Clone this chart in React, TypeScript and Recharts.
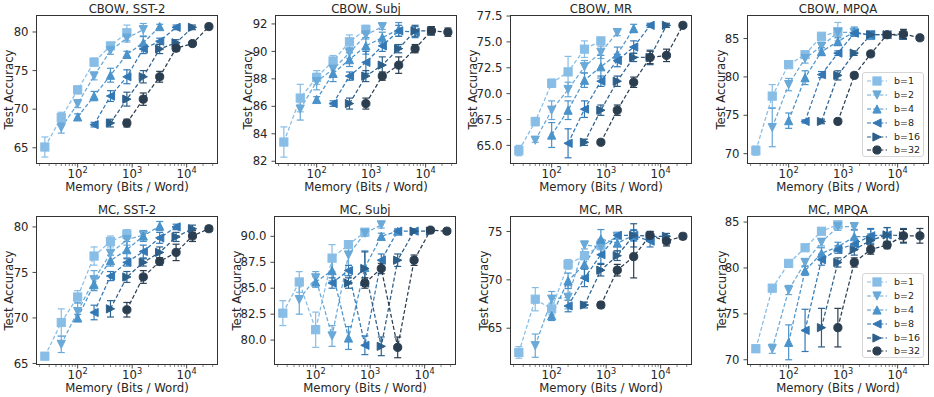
import React from "react"
import { LineChart, Line, XAxis, YAxis, ErrorBar, Legend } from "recharts"

const FONT = "'DejaVu Sans', Verdana, sans-serif"
const INK = "#262626"
const FRAME = "#333333"

const bitLabels = ["b=1", "b=2", "b=4", "b=8", "b=16", "b=32"]
const bitColors = ["#88bde6", "#6aa9d8", "#4a93cb", "#3378b5", "#2c5f8a", "#2b3e50"]
const bitShapes = ["square", "down", "up", "left", "right", "circle"]

// memory budgets (bits / word); series i uses the 6 budgets starting at index i
const memory = [25, 50, 100, 200, 400, 800, 1600, 3200, 6400, 12800, 25600]
const xTicks = [
  20, 30, 40, 50, 60, 70, 80, 90, 100, 200, 300, 400, 500, 600, 700, 800, 900, 1000, 2000, 3000, 4000,
  5000, 6000, 7000, 8000, 9000, 10000, 20000, 30000,
]
const majorTicks = [100, 1000, 10000]

const cbowSst2Acc = [
  [65.1, 68.9, 72.5, 76.1, 78.2, 79.9],
  [67.6, 70.7, 74.3, 77.6, 79.2, 80.3],
  [69.0, 71.7, 74.4, 77.1, 78.6, 80.7],
  [68.0, 71.7, 74.2, 77.8, 78.8, 80.6],
  [68.2, 71.3, 74.2, 77.8, 78.6, 80.6],
  [68.2, 71.3, 74.2, 77.9, 78.5, 80.7],
]
const cbowSst2Err = [
  [1.3, 0.7, 0.5, 0.5, 0.4, 1.0],
  [0.7, 0.5, 0.5, 0.5, 0.5, 0.8],
  [0.4, 0.6, 0.9, 0.4, 0.8, 0.3],
  [0.3, 0.7, 0.9, 0.6, 0.4, 0.3],
  [0.5, 0.9, 0.8, 0.6, 0.4, 0.3],
  [0.5, 0.8, 0.7, 0.4, 0.3, 0.3],
]

const cbowSubjAcc = [
  [83.4, 86.6, 88.1, 89.3, 90.7, 91.6],
  [85.8, 87.8, 88.7, 89.9, 91.2, 91.8],
  [86.5, 88.4, 89.4, 90.4, 91.0, 91.6],
  [86.2, 88.2, 89.2, 90.4, 91.5, 91.4],
  [86.2, 88.2, 89.0, 90.2, 91.5, 91.5],
  [86.2, 88.2, 89.0, 90.2, 91.5, 91.4],
]
const cbowSubjErr = [
  [1.1, 1.0, 0.5, 0.4, 0.5, 0.3],
  [0.8, 0.6, 0.5, 0.4, 0.3, 0.2],
  [0.2, 0.6, 0.5, 0.6, 0.4, 0.5],
  [0.2, 0.3, 0.8, 0.4, 0.4, 0.4],
  [0.4, 0.4, 0.6, 0.3, 0.4, 0.3],
  [0.4, 0.3, 0.6, 0.3, 0.3, 0.3],
]

const cbowMrAcc = [
  [64.5, 67.3, 71.0, 72.1, 74.3, 75.1],
  [65.5, 68.4, 70.4, 72.6, 74.0, 75.9],
  [66.0, 68.4, 71.3, 72.6, 73.8, 76.3],
  [65.2, 68.5, 71.2, 73.2, 74.5, 76.6],
  [65.3, 68.4, 71.2, 73.5, 73.5, 76.6],
  [65.3, 68.4, 71.1, 73.5, 73.7, 76.6],
]
const cbowMrErr = [
  [0.5, 0.4, 0.4, 1.5, 0.8, 0.3],
  [0.2, 0.9, 0.7, 0.6, 0.6, 0.3],
  [1.2, 0.9, 0.7, 1.1, 0.7, 0.4],
  [1.4, 0.8, 0.5, 0.6, 0.6, 0.2],
  [0.3, 0.5, 0.5, 0.4, 0.7, 0.2],
  [0.2, 0.5, 0.5, 0.6, 0.6, 0.2],
]

const cbowMpqaAcc = [
  [70.4, 77.5, 81.6, 82.9, 85.3, 85.9],
  [73.4, 79.0, 82.4, 84.0, 85.8, 85.8],
  [74.3, 79.9, 83.3, 84.6, 85.9, 85.4],
  [74.2, 80.3, 83.1, 85.7, 85.5, 85.5],
  [74.2, 80.2, 83.1, 85.5, 85.5, 85.4],
  [74.2, 80.2, 83.0, 85.5, 85.6, 85.1],
]
const cbowMpqaErr = [
  [0.6, 1.5, 0.3, 0.4, 0.3, 1.2],
  [2.5, 0.8, 0.6, 0.5, 0.5, 0.5],
  [1.0, 0.9, 0.5, 0.5, 0.6, 0.5],
  [0.2, 0.4, 0.3, 0.4, 0.5, 0.4],
  [0.3, 0.6, 0.3, 0.4, 0.4, 0.5],
  [0.3, 0.3, 0.3, 0.4, 0.6, 0.3],
]

const mcSst2Acc = [
  [65.8, 69.5, 72.3, 76.8, 78.4, 79.2],
  [67.1, 70.7, 74.2, 77.1, 78.6, 79.1],
  [70.0, 73.7, 76.3, 77.5, 79.0, 80.1],
  [70.6, 74.6, 76.1, 77.3, 78.8, 80.0],
  [71.0, 74.5, 76.1, 77.2, 78.9, 79.8],
  [70.9, 74.5, 76.2, 77.2, 79.0, 79.8],
]
const mcSst2Err = [
  [0.2, 1.5, 0.7, 1.0, 0.6, 0.5],
  [0.9, 1.0, 1.0, 1.0, 0.6, 0.5],
  [0.4, 0.7, 0.6, 0.9, 0.6, 0.5],
  [0.8, 0.5, 0.4, 0.7, 0.6, 0.3],
  [0.9, 0.6, 0.4, 0.6, 0.5, 0.4],
  [0.8, 0.7, 0.4, 0.9, 0.6, 0.3],
]

const mcSubjAcc = [
  [82.6, 85.6, 81.0, 87.9, 89.2, 90.4],
  [83.9, 86.0, 80.4, 88.2, 90.3, 91.1],
  [85.6, 86.7, 80.2, 87.0, 90.0, 90.5],
  [85.5, 86.7, 79.5, 87.7, 90.5, 90.5],
  [85.5, 86.9, 79.4, 87.7, 90.5, 90.5],
  [85.5, 86.9, 79.3, 87.7, 90.6, 90.5],
]
const mcSubjErr = [
  [1.2, 1.0, 1.7, 1.3, 0.3, 0.3],
  [1.4, 0.6, 1.0, 1.0, 0.3, 0.3],
  [0.5, 1.0, 1.1, 1.6, 0.3, 0.2],
  [0.5, 0.5, 0.9, 0.6, 0.2, 0.2],
  [0.5, 1.6, 0.9, 0.6, 0.2, 0.2],
  [0.5, 0.5, 1.0, 0.5, 0.2, 0.2],
]

const mcMrAcc = [
  [62.5, 68.0, 67.0, 71.6, 72.5, 73.6],
  [63.2, 68.0, 68.2, 73.6, 73.4, 74.5],
  [66.3, 69.9, 71.6, 74.2, 73.8, 74.6],
  [67.3, 70.2, 72.6, 74.6, 74.6, 74.0],
  [67.4, 71.0, 72.5, 74.6, 74.5, 74.5],
  [67.4, 71.0, 72.4, 74.6, 74.0, 74.5],
]
const mcMrErr = [
  [0.6, 1.2, 0.6, 0.5, 0.4, 0.5],
  [1.2, 0.8, 1.2, 0.4, 0.8, 0.3],
  [0.5, 0.8, 1.2, 1.0, 0.8, 0.6],
  [0.6, 0.9, 0.9, 0.3, 0.5, 0.6],
  [0.3, 0.6, 0.5, 1.2, 0.5, 0.3],
  [0.3, 0.6, 2.2, 0.4, 0.5, 0.3],
]

const mcMpqaAcc = [
  [71.2, 77.8, 80.5, 82.2, 84.0, 84.7],
  [71.2, 77.6, 80.6, 82.8, 84.5, 84.5],
  [71.9, 79.7, 81.6, 82.3, 83.4, 83.4],
  [73.2, 80.9, 82.0, 82.6, 83.5, 83.6],
  [73.5, 80.6, 82.0, 83.0, 83.6, 83.5],
  [73.5, 80.6, 82.0, 82.5, 83.5, 83.5],
]
const mcMpqaErr = [
  [0.4, 0.3, 0.3, 0.3, 0.3, 0.3],
  [0.5, 0.5, 0.4, 0.4, 0.4, 0.4],
  [1.9, 0.5, 0.6, 0.5, 0.8, 0.8],
  [2.3, 0.6, 0.4, 0.6, 0.8, 0.8],
  [2.1, 0.5, 0.6, 0.7, 0.8, 0.8],
  [2.1, 0.5, 0.5, 0.4, 0.7, 0.8],
]

type Panel = {
  title: string
  acc: number[][]
  err: number[][]
  yDomain: [number, number]
  yTicks: number[]
  dec: number
  left: number
  top: number
  yAxisW: number
  legend?: boolean
}

const PW = 182
const PH = 149
const XH = 45
const MT = 5
const MR = 5

const panels: Panel[] = [
  { title: "CBOW, SST-2", acc: cbowSst2Acc, err: cbowSst2Err, yDomain: [62.9, 82.2], yTicks: [65, 70, 75, 80], dec: 0, left: 36, top: 15, yAxisW: 54 },
  { title: "CBOW, Subj", acc: cbowSubjAcc, err: cbowSubjErr, yDomain: [81.8, 92.65], yTicks: [82, 84, 86, 88, 90, 92], dec: 0, left: 275, top: 15, yAxisW: 54 },
  { title: "CBOW, MR", acc: cbowMrAcc, err: cbowMrErr, yDomain: [63.2, 77.6], yTicks: [65, 67.5, 70, 72.5, 75, 77.5], dec: 1, left: 510, top: 15, yAxisW: 74 },
  { title: "CBOW, MPQA", acc: cbowMpqaAcc, err: cbowMpqaErr, yDomain: [68.65, 88.07], yTicks: [70, 75, 80, 85], dec: 0, left: 747, top: 15, yAxisW: 52, legend: true },
  { title: "MC, SST-2", acc: mcSst2Acc, err: mcSst2Err, yDomain: [64.83, 81.2], yTicks: [65, 70, 75, 80], dec: 0, left: 36, top: 216, yAxisW: 54 },
  { title: "MC, Subj", acc: mcSubjAcc, err: mcSubjErr, yDomain: [77.6, 91.96], yTicks: [80, 82.5, 85, 87.5, 90], dec: 1, left: 274, top: 216, yAxisW: 74 },
  { title: "MC, MR", acc: mcMrAcc, err: mcMrErr, yDomain: [61.2, 76.6], yTicks: [65, 70, 75], dec: 0, left: 510, top: 216, yAxisW: 52 },
  { title: "MC, MPQA", acc: mcMpqaAcc, err: mcMpqaErr, yDomain: [69.43, 85.66], yTicks: [70, 75, 80, 85], dec: 0, left: 747, top: 216, yAxisW: 50, legend: true },
]

function Marker({ shape, cx, cy, color, s = 8.2 }: { shape: string; cx: number; cy: number; color: string; s?: number }) {
  if (cx == null || cy == null) return null
  const h = s / 2
  const common = { fill: color, stroke: color, strokeWidth: 1 }
  switch (shape) {
    case "square":
      return <rect x={cx - h} y={cy - h} width={s} height={s} {...common} />
    case "down":
      return <polygon points={`${cx - h},${cy - h} ${cx + h},${cy - h} ${cx},${cy + h}`} {...common} />
    case "up":
      return <polygon points={`${cx - h},${cy + h} ${cx + h},${cy + h} ${cx},${cy - h}`} {...common} />
    case "left":
      return <polygon points={`${cx + h},${cy - h} ${cx + h},${cy + h} ${cx - h},${cy}`} {...common} />
    case "right":
      return <polygon points={`${cx - h},${cy - h} ${cx - h},${cy + h} ${cx + h},${cy}`} {...common} />
    default:
      return <circle cx={cx} cy={cy} r={h} {...common} />
  }
}

function MemoryTick(props: any) {
  const { x, y, payload } = props
  const v = payload.value
  const major = majorTicks.includes(v)
  return (
    <g>
      <line x1={x} x2={x} y1={y} y2={y + (major ? 3.5 : 2)} stroke={FRAME} strokeWidth={major ? 0.9 : 0.6} />
      {major && (
        <text x={x} y={y + 14.3} textAnchor="middle" fill={INK} fontSize={11.7} fontFamily={FONT}>
          10
          <tspan dy={-5.3} fontSize={8.2}>
            {Math.round(Math.log10(v))}
          </tspan>
        </text>
      )}
    </g>
  )
}

function LegendBox() {
  return (
    <div
      style={{
        width: 62,
        height: 85,
        boxSizing: "border-box",
        border: "1px solid #d5d5d5",
        borderRadius: 3,
        background: "rgba(255,255,255,0.85)",
        paddingTop: 1,
        fontFamily: FONT,
        fontSize: 9.5,
        color: INK,
      }}
    >
      {bitLabels.map((lab, i) => (
        <div key={lab} style={{ display: "flex", alignItems: "center", height: 13.9 }}>
          <svg width={27} height={14} style={{ display: "block" }}>
            <line x1={4} x2={24} y1={7} y2={7} stroke={bitColors[i]} strokeWidth={1.2} strokeDasharray="4 2.2" />
            <Marker shape={bitShapes[i]} cx={14} cy={7} color={bitColors[i]} />
          </svg>
          <span style={{ marginLeft: 4, lineHeight: "14px" }}>{lab}</span>
        </div>
      ))}
    </div>
  )
}

function PanelChart({ p }: { p: Panel }) {
  const W = p.yAxisW + PW + MR
  const H = MT + PH + XH
  return (
    <>
      <div
        style={{
          position: "absolute",
          left: p.left,
          top: p.top - 13,
          width: PW,
          textAlign: "center",
          fontFamily: FONT,
          fontSize: 11.7,
          lineHeight: "14px",
          color: INK,
        }}
      >
        {p.title}
      </div>
      <div style={{ position: "absolute", left: p.left - p.yAxisW, top: p.top - MT }}>
        <LineChart width={W} height={H} margin={{ top: MT, right: MR, bottom: 0, left: 0 }}>
          <XAxis
            dataKey="m"
            type="number"
            scale="log"
            domain={[17.2, 37600]}
            allowDataOverflow
            ticks={xTicks}
            interval={0}
            height={XH}
            tickSize={0}
            tickMargin={0}
            tickLine={false}
            axisLine={false}
            tick={<MemoryTick />}
            label={{ value: "Memory (Bits / Word)", position: "center", fill: INK, fontSize: 11.7, fontFamily: FONT }}
          />
          <YAxis
            type="number"
            domain={p.yDomain}
            allowDataOverflow
            ticks={p.yTicks}
            interval={0}
            width={p.yAxisW}
            tickSize={3.5}
            tickMargin={4}
            tickLine={{ stroke: FRAME, strokeWidth: 0.9 }}
            axisLine={false}
            tick={{ fill: INK, fontSize: 11.7, fontFamily: FONT }}
            tickFormatter={(v: number) => v.toFixed(p.dec)}
            label={{ value: "Test Accuracy", angle: -90, position: "center", fill: INK, fontSize: 11.7, fontFamily: FONT }}
          />
          {bitLabels.map((lab, i) => {
            const data = memory.slice(i, i + 6).map((m, j) => ({ m, acc: p.acc[i][j], err: p.err[i][j] }))
            return (
              <Line
                key={lab}
                name={lab}
                data={data}
                dataKey="acc"
                stroke={bitColors[i]}
                strokeWidth={1.25}
                strokeDasharray="4 2.2"
                isAnimationActive={false}
                activeDot={false}
                dot={(d: any) => (
                  <Marker key={`${lab}-${d.index}`} shape={bitShapes[i]} cx={d.cx} cy={d.cy} color={bitColors[i]} />
                )}
              >
                <ErrorBar dataKey="err" direction="y" width={3.5} strokeWidth={1.2} stroke={bitColors[i]} isAnimationActive={false} />
              </Line>
            )
          })}
          {p.legend && (
            <Legend
              layout="vertical"
              align="center"
              verticalAlign="middle"
              wrapperStyle={{ left: p.yAxisW + PW - 67, top: MT + PH - 92, width: 62, height: 85 }}
              content={() => <LegendBox />}
            />
          )}
        </LineChart>
      </div>
      <div
        style={{
          position: "absolute",
          left: p.left,
          top: p.top,
          width: PW,
          height: PH,
          boxSizing: "border-box",
          border: `1px solid ${FRAME}`,
          pointerEvents: "none",
        }}
      />
    </>
  )
}

export default function App() {
  return (
    <div style={{ position: "absolute", left: 0, top: 0, width: 934, height: 397, background: "#fff", overflow: "hidden" }}>
      {panels.map((p) => (
        <PanelChart key={p.title} p={p} />
      ))}
    </div>
  )
}
